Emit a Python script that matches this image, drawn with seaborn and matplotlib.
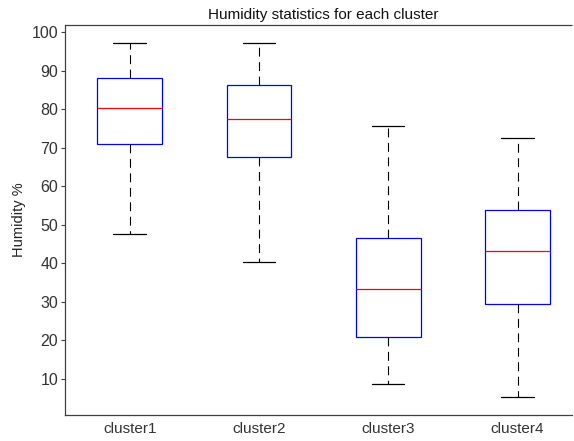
# Humidity boxplot per cluster (MATLAB style look)

import numpy as np
import pandas as pd
from matplotlib import pyplot as plt
import seaborn as sns

# five-number summaries: min, q1, median, q3, max
clusters = ['cluster1', 'cluster2', 'cluster3', 'cluster4']
c1 = [47.7, 70.9, 80.4, 88.1, 97.1]
c2 = [40.4, 67.6, 77.3, 86.2, 97.1]
c3 = [8.8, 20.9, 33.3, 46.6, 75.7]
c4 = [5.4, 29.4, 43.3, 53.8, 72.4]

# long table for seaborn (5 points -> quartiles fall exactly on the values)
df = pd.DataFrame({
    'cluster': np.repeat(clusters, 5),
    'humidity': c1 + c2 + c3 + c4,
})

sns.set_style('white')
plt.rcParams['font.family'] = ['Liberation Sans', 'DejaVu Sans']

fig = plt.figure(figsize=(5.74, 4.41), dpi=100)
# axes run off the right edge in the original, so stop just inside and trim xlim
ax = fig.add_axes([65 / 574, 26 / 441, 507 / 574, 390 / 441])

sns.boxplot(data=df, x='cluster', y='humidity', ax=ax,
            whis=(0, 100), width=0.5, showfliers=False,
            color='white', linecolor='#0000ff', linewidth=0.9,
            medianprops=dict(color='#ff0000', linewidth=0.9),
            whiskerprops=dict(color='black', linewidth=0.8, linestyle=(0, (8, 5))),
            capprops=dict(color='black', linewidth=0.9))

ax.set_ylim(0.67, 101.8)
ax.set_xlim(-0.5, -0.5 + 507 / 129.3)
ax.set_yticks(np.arange(10, 101, 10))
ax.set_xlabel('')
ax.set_ylabel('Humidity %', fontsize=10.5, color='#222222')
ax.set_title('Humidity statistics for each cluster', fontsize=11, color='#111111',
             pad=4, x=(323.5 - 65) / 507)

ax.tick_params(axis='y', direction='out', length=3, width=0.8, colors='#404040',
               labelsize=11.5, labelcolor='#333333', pad=2, left=True)
ax.tick_params(axis='x', length=0, labelsize=11, labelcolor='#333333', pad=5)

for side in ['bottom', 'left']:
    ax.spines[side].set_color('#404040')
    ax.spines[side].set_linewidth(0.9)
ax.spines['right'].set_visible(False)
ax.spines['top'].set_visible(False)
# top frame line drawn by hand so nothing closes the box on the right
ax.plot([0, 1], [1, 1], transform=ax.transAxes, color='#404040',
        linewidth=0.9, clip_on=False, solid_capstyle='butt')

fig.savefig('out.png', dpi=100, facecolor='white')
